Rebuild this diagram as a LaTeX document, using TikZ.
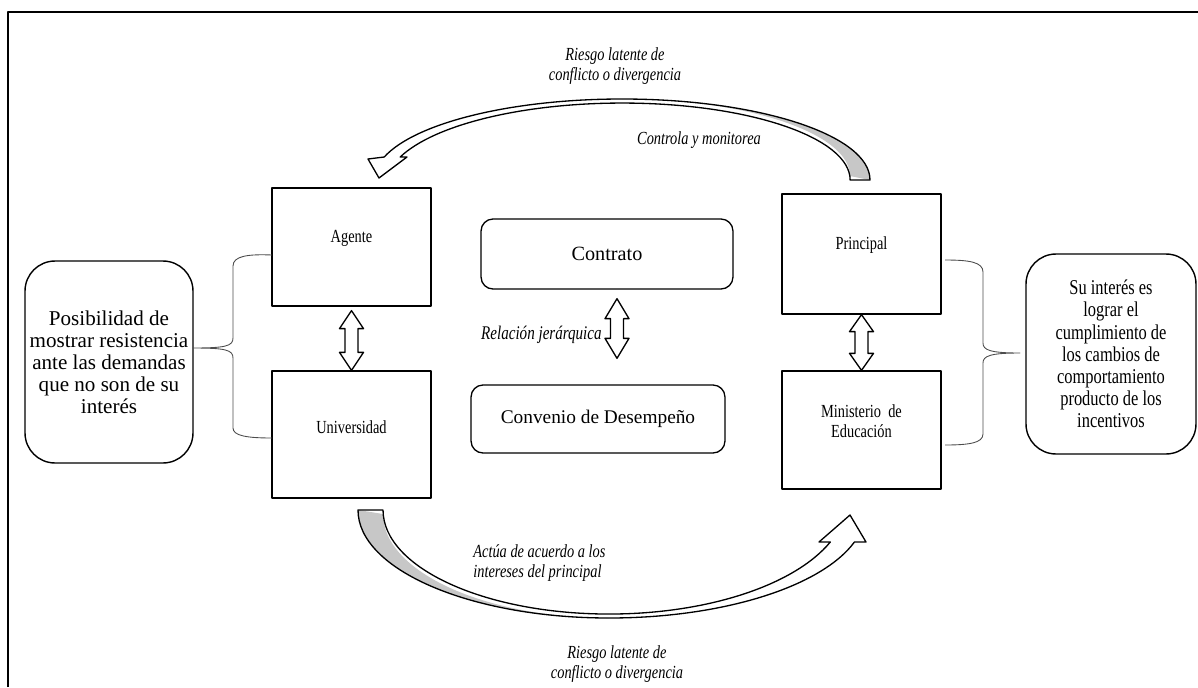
\documentclass[tikz,border=0pt]{standalone}
\usepackage{fontspec}
\setmainfont{Liberation Serif}
\newfontfamily\nf[FakeStretch=0.78]{Liberation Serif}
\usetikzlibrary{calc}
\newcommand\vdarr[3]{% top, bottom, head length
  \draw[dbl] (#1) -- ($(#1)+(12,#3)$) -- ($(#1)+(6.5,#3)$) -- ($(#2)+(6.5,-#3)$) -- ($(#2)+(12,-#3)$) -- (#2)
    -- ($(#2)+(-12,-#3)$) -- ($(#2)+(-6.5,-#3)$) -- ($(#1)+(-6.5,#3)$) -- ($(#1)+(-12,#3)$) -- cycle;}
\begin{document}
\begin{tikzpicture}[x=0.02cm,y=-0.02cm,line join=round,
  sq/.style={draw,line width=0.75pt,inner sep=0pt,minimum width=3.18cm},
  rbig/.style={draw,line width=0.8pt,inner sep=0pt,rounded corners=0.6cm,align=center,
     font=\fontsize{12}{12.5}\selectfont},
  rmid/.style={draw,line width=0.75pt,inner sep=0pt,rounded corners=0.24cm,
     font=\fontsize{11.5}{13}\selectfont},
  lbl/.style={inner sep=0pt,align=center,font=\nf\fontsize{10.5}{11.3}\selectfont},
  ital/.style={inner sep=0pt,align=center,font=\nf\itshape\fontsize{10.5}{11.3}\selectfont},
  brace/.style={draw=black!70,line width=0.5pt},
  dbl/.style={draw,line width=0.75pt,fill=white},
  shade/.style={fill=black!22}]
\useasboundingbox (0,0) rectangle (1198,687);
% frame
\draw[line width=1.1pt] (8,687) -- (8,12) -- (1198,12);
% boxes
\node[sq,minimum height=2.36cm] (agente) at (351.5,247) {};
\node[sq,minimum height=2.54cm] (univ) at (351.5,434.5) {};
\node[sq,minimum height=2.4cm] (principal) at (861.5,254) {};
\node[sq,minimum height=2.36cm] (minis) at (861.5,430) {};
\node[lbl] (agenteT) at (351.5,238) {Agente};
\node[lbl] (univT) at (351.5,427) {Universidad};
\node[lbl] (principalT) at (861.5,245) {Principal};
\node[lbl] (minisT) at (861.5,421) {Ministerio\ \ de\\Educación};
\node[rbig,minimum width=3.36cm,minimum height=4.04cm] (left) at (109,362)
  {Posibilidad de\\mostrar resistencia\\ante las demandas\\que no son de su\\interés};
\node[rbig,minimum width=3.4cm,minimum height=4cm,font=\nf\fontsize{12}{12.6}\selectfont] (right) at (1111,354)
  {Su interés es\\lograr el\\cumplimiento de\\los cambios de\\comportamiento\\producto de los\\incentivos};
\node[rmid,minimum width=5.04cm,minimum height=1.4cm] (contrato) at (607,254) {Contrato};
\node[rmid,minimum width=5.08cm,minimum height=1.36cm,font=\fontsize{11}{13}\selectfont] (convenio) at (598,419) {Convenio de Desempeño};
% double arrows
\coordinate (a1t) at ($(agente.south)+(0,4)$);
\coordinate (a1b) at (univ.north);
\vdarr{a1t}{a1b}{18}
\coordinate (a2t) at (principal.south);
\coordinate (a2b) at (minis.north);
\vdarr{a2t}{a2b}{17}
\coordinate (a3t) at ($(contrato.south)+(10,9)$);
\coordinate (a3b) at ($(convenio.north)+(19,-26)$);
\vdarr{a3t}{a3b}{20}
\node[ital,anchor=east,font=\nf\itshape\fontsize{11}{12}\selectfont] (rel) at (602,335) {Relación jerárquica};
% braces
\draw[brace] (272,255) .. controls (248,254) and (233,256) .. (233,266) -- (233,338)
  .. controls (233,346) and (226,348) .. (193,348)
  .. controls (226,348) and (233,350) .. (233,358) -- (233,428)
  .. controls (233,436) and (248,438) .. (272,438);
\draw[brace] (945,260) .. controls (969,260) and (983,262) .. (983,272) -- (983,343)
  .. controls (983,350) and (990,353) .. (1020,353)
  .. controls (990,353) and (983,356) .. (983,363) -- (983,434)
  .. controls (983,443) and (969,445) .. (945,445);
% top curved arrow (principal -> agente)
\fill[shade] (870,180) arc[start angle=0,end angle=-90,x radius=248,y radius=81]
  arc[start angle=-90,end angle=0,x radius=228,y radius=77] -- cycle;
\draw[line width=0.75pt] (870,180) arc[start angle=0,end angle=-163.5,x radius=248,y radius=81]
  -- (368,159) -- (379,178) -- (407,157) -- (400.2,157)
  arc[start angle=-160,end angle=-90,x radius=236.2,y radius=82]
  arc[start angle=-90,end angle=0,x radius=228,y radius=77] -- cycle;
% bottom curved arrow (universidad -> ministerio)
\fill[shade] (358,510) arc[start angle=180,end angle=90,x radius=251,y radius=108]
  arc[start angle=90,end angle=180,x radius=226,y radius=104] -- cycle;
\draw[line width=0.75pt] (358,510) arc[start angle=180,end angle=90,x radius=251,y radius=108]
  arc[start angle=90,end angle=17.24,x radius=257,y radius=108]
  -- (866,542) -- (850,515) -- (819,542) -- (830.3,542)
  arc[start angle=21.6,end angle=90,x radius=238,y radius=114]
  arc[start angle=90,end angle=180,x radius=226,y radius=104] -- cycle;
% italic labels
\node[ital] (riesgo1) at (615,66) {Riesgo latente de\\conflicto o divergencia};
\node[ital] (controla) at (699,140) {Controla y monitorea};
\node[ital,anchor=west,align=left] (actua) at (473,563) {Actúa de acuerdo a los\\intereses del principal};
\node[ital] (riesgo2) at (617,664) {Riesgo latente de\\conflicto o divergencia};
\end{tikzpicture}
\end{document}
